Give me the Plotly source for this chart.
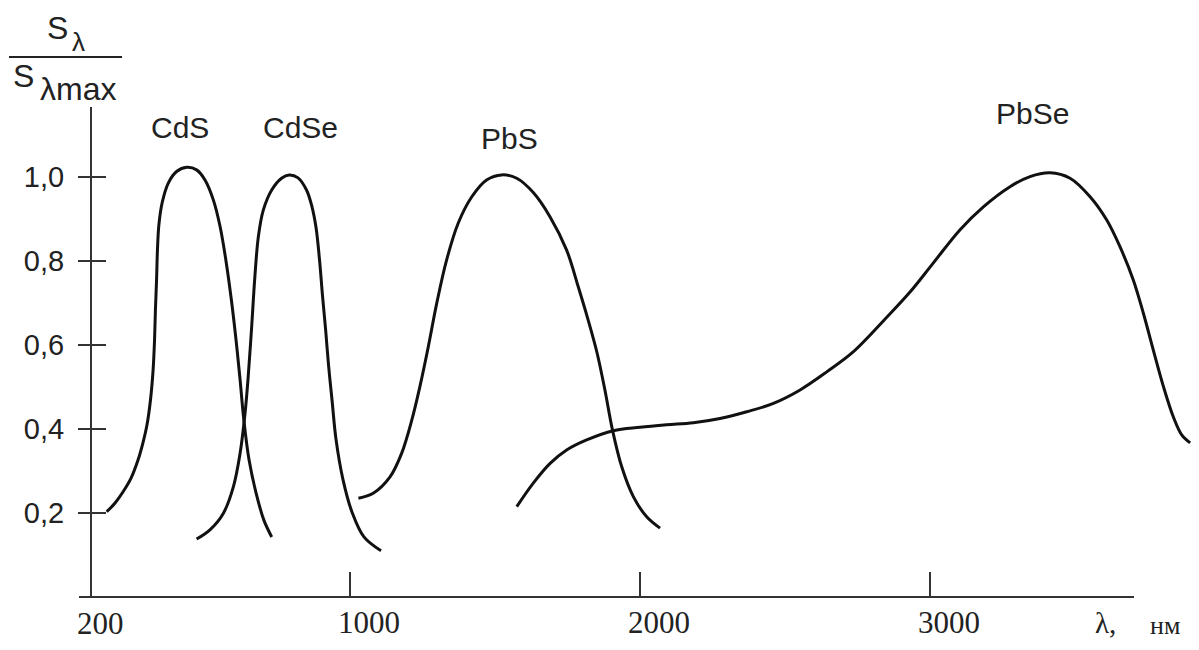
import plotly.graph_objects as go

# ---------------- data ----------------
cds_wl = [161, 190, 217, 245, 269, 286, 300, 312, 321, 326, 329, 333, 336, 341, 352, 373,
          402, 437, 471, 500, 529, 552, 572, 591, 607, 621, 634, 652, 676, 703, 730]
cds_s = [0.203, 0.224, 0.250, 0.283, 0.326, 0.367, 0.410, 0.469, 0.540, 0.612, 0.683, 0.755,
         0.826, 0.886, 0.938, 0.985, 1.013, 1.023, 1.017, 0.993, 0.945, 0.882, 0.802, 0.707,
         0.612, 0.517, 0.421, 0.326, 0.248, 0.183, 0.143]

cdse_wl = [471, 517, 563, 598, 621, 638, 649, 661, 672, 684, 701, 730, 764, 790, 821, 850,
           869, 883, 895, 905, 916, 926, 938, 952, 976, 1007, 1048, 1107]
cdse_s = [0.138, 0.160, 0.199, 0.263, 0.342, 0.437, 0.525, 0.644, 0.763, 0.858, 0.921, 0.969,
          0.997, 1.005, 0.998, 0.969, 0.929, 0.879, 0.802, 0.719, 0.636, 0.552, 0.469, 0.374,
          0.279, 0.202, 0.143, 0.110]

pbs_wl = [1029, 1080, 1138, 1178, 1213, 1241, 1270, 1299, 1333, 1373, 1420, 1471, 1523, 1575,
          1632, 1690, 1747, 1786, 1821, 1852, 1879, 1905, 1937, 1977, 2023, 2069]
pbs_s = [0.235, 0.247, 0.286, 0.342, 0.421, 0.501, 0.596, 0.699, 0.802, 0.890, 0.953, 0.993,
         1.005, 0.997, 0.963, 0.905, 0.826, 0.741, 0.660, 0.581, 0.493, 0.398, 0.310, 0.239,
         0.191, 0.164]

pbse_wl = [1575, 1632, 1690, 1747, 1816, 1908, 2000, 2092, 2184, 2276, 2368, 2460, 2552, 2644,
           2736, 2851, 2931, 3011, 3103, 3184, 3276, 3345, 3414, 3483, 3552, 3609, 3655, 3701,
           3736, 3770, 3805, 3839, 3868, 3897]
pbse_s = [0.215, 0.271, 0.318, 0.350, 0.374, 0.396, 0.404, 0.410, 0.415, 0.425, 0.441, 0.461,
          0.493, 0.536, 0.584, 0.666, 0.726, 0.795, 0.874, 0.929, 0.977, 1.001, 1.010, 0.997,
          0.953, 0.898, 0.834, 0.755, 0.675, 0.588, 0.501, 0.429, 0.386, 0.367]

curve_names = ["CdS", "CdSe", "PbS", "PbSe"]

x_origin_val = 200
x_origin_text = "200"
x_tick_vals = [1000, 2000, 3000]
x_tick_text = ["1000", "2000", "3000"]
y_tick_vals = [0.2, 0.4, 0.6, 0.8, 1.0]
y_tick_text = ["0,2", "0,4", "0,6", "0,8", "1,0"]

# ---------------- layout geometry ----------------
W, H = 1199, 650
L, RPX, T, B = 92, 1196, 107, 597        # plot area in px (y-axis at L)
XLINE_START, XLINE_END = 79, 1134         # visible x-axis line
NM0, PX0, SCALE = 1000.0, 350.0, 0.29     # px per nm
PX_PER_UNIT = 420.0

def nm_at(px):
    return NM0 + (px - PX0) / SCALE

def xp(px):
    return (px - L) / (RPX - L)

def yp(py):
    return (B - py) / (B - T)

y_range = [0, (B - T) / PX_PER_UNIT]

INK = "#111111"
AX = "#333333"
TXT = "#222222"
sans = "Liberation Sans"
serif = "Liberation Serif"

fig = go.Figure()
for wl, s, nm in zip([cds_wl, cdse_wl, pbs_wl, pbse_wl],
                     [cds_s, cdse_s, pbs_s, pbse_s], curve_names):
    fig.add_trace(go.Scatter(x=wl, y=s, mode="lines", name=nm,
                             line=dict(color=INK, width=3, shape="spline", smoothing=1.0),
                             hoverinfo="skip", showlegend=False))

# empty trace so the overlaying y-axis (right half of the y ticks) is rendered
fig.add_trace(go.Scatter(x=[None], y=[None], yaxis="y2", mode="lines",
                         hoverinfo="skip", showlegend=False))

fig.update_layout(
    width=W, height=H, autosize=False,
    margin=dict(l=L, r=W - RPX, t=T, b=H - B, pad=0),
    paper_bgcolor="white", plot_bgcolor="white",
    showlegend=False,
    xaxis=dict(domain=[0, 1], range=[nm_at(L), nm_at(RPX)],
               showline=False, showgrid=False, zeroline=False,
               tickmode="array", tickvals=x_tick_vals, ticktext=x_tick_text,
               ticks="inside", ticklen=25, tickwidth=2, tickcolor=AX,
               ticklabelshift=19, ticklabelstandoff=4,
               tickfont=dict(family=serif, size=31, color=TXT)),
    yaxis=dict(domain=[0, 1], range=y_range, anchor="x", side="left",
               showline=True, linecolor=AX, linewidth=2, showgrid=False, zeroline=False,
               tickmode="array", tickvals=y_tick_vals, ticktext=y_tick_text,
               ticks="outside", ticklen=12, tickwidth=2, tickcolor=AX,
               ticklabelstandoff=8,
               tickfont=dict(family=sans, size=29, color=TXT)),
    yaxis2=dict(range=y_range, anchor="x", side="left", overlaying="y",
                showline=False, showgrid=False, zeroline=False,
                tickmode="array", tickvals=y_tick_vals, ticks="inside", ticklen=14,
                tickwidth=2, tickcolor=AX, showticklabels=False),
)

ann = []
label_pos = {"CdS": (180, 128), "CdSe": (300, 127), "PbS": (509, 138), "PbSe": (1032, 113)}
for nm in curve_names:
    px, py = label_pos[nm]
    ann.append(dict(text=nm, x=xp(px), y=yp(py), xref="paper", yref="paper",
                    xanchor="center", yanchor="middle", showarrow=False,
                    font=dict(family=sans, size=30, color=TXT)))

# label of the origin of the wavelength axis
ann.append(dict(text=x_origin_text, x=x_origin_val, xref="x", y=yp(623), yref="paper",
                xanchor="center", yanchor="middle", xshift=-18, showarrow=False,
                font=dict(family=serif, size=31, color=TXT)))

# y-axis title as a fraction
for txt, px, py, size in [("S", 57, 28, 32), ("λ", 78, 42, 26),
                          ("S", 23, 76, 32), ("λmax", 78, 89, 32)]:
    ann.append(dict(text=txt, x=xp(px), y=yp(py), xref="paper", yref="paper",
                    xanchor="center", yanchor="middle", showarrow=False,
                    font=dict(family=sans, size=size, color=TXT)))

# x-axis unit
ann.append(dict(text="λ,", x=xp(1105), y=yp(623), xref="paper", yref="paper",
                xanchor="center", yanchor="middle", showarrow=False,
                font=dict(family=serif, size=29, color=TXT)))
ann.append(dict(text="нм", x=xp(1165), y=yp(625), xref="paper", yref="paper",
                xanchor="center", yanchor="middle", showarrow=False,
                font=dict(family=serif, size=26, color=TXT)))
fig.update_layout(annotations=ann)

# x-axis line (extends slightly left of the y-axis and stops before the right edge)
fig.add_shape(type="line", xref="paper", yref="paper",
              x0=xp(XLINE_START), x1=xp(XLINE_END), y0=0, y1=0,
              line=dict(color=AX, width=2))
# fraction bar
fig.add_shape(type="line", xref="paper", yref="paper",
              x0=xp(9), x1=xp(122), y0=yp(57), y1=yp(57),
              line=dict(color=TXT, width=2))

fig.write_html("out.html", config={"displayModeBar": False})
